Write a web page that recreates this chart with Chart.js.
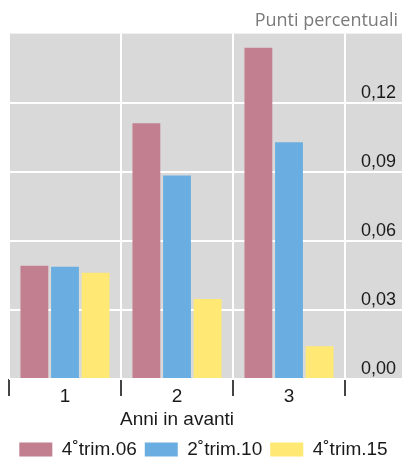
<!DOCTYPE html>
<html>
<head>
<meta charset="utf-8">
<script src="https://cdn.jsdelivr.net/npm/chart.js@4.4.0/dist/chart.umd.min.js"></script>
<style>
  html, body { margin: 0; padding: 0; background: #ffffff; }
  #wrap { width: 402px; height: 459px; }
</style>
</head>
<body>
<div id="wrap"><canvas id="chart"></canvas></div>
<script>
// dati
const categories = ['1', '2', '3'];
const seriesNames = ['4˚trim.06', '2˚trim.10', '4˚trim.15'];
const trim06 = [0.0491, 0.1111, 0.1439];
const trim10 = [0.0487, 0.0884, 0.1028];
const trim15 = [0.0461, 0.0347, 0.0142];
const yTicks = [0, 0.03, 0.06, 0.09, 0.12, 0.15];

const colors = ['#c27f8f', '#6aade1', '#ffe873'];
const textColor = '#1a1a1a';

// sfondo grigio dell'area del grafico (anche dietro le etichette a destra)
const greyBg = {
    id: 'greyBg',
    beforeDraw: function(chart) {
        const a = chart.chartArea;
        const ctx = chart.ctx;
        ctx.save();
        ctx.fillStyle = '#d9d9d9';
        ctx.fillRect(a.left, a.top, chart.width - a.left, a.bottom - a.top);
        ctx.restore();
    }
};

const series = [trim06, trim10, trim15];

new Chart(document.getElementById('chart'), {
    type: 'bar',
    data: {
        labels: categories,
        datasets: series.map((d, i) => ({
            label: seriesNames[i],
            data: d,
            backgroundColor: colors[i],
            borderWidth: 0,
            categoryPercentage: 0.82,
            barPercentage: 0.91
        }))
    },
    options: {
        responsive: true,
        maintainAspectRatio: false,
        animation: false,
        layout: {
            padding: { left: 9, right: 4, top: 0, bottom: -10 }
        },
        plugins: {
            title: {
                display: true,
                text: 'Punti percentuali',
                align: 'end',
                color: '#7a7a7a',
                font: { family: 'Open Sans', size: 18, weight: 'normal' },
                padding: { top: 10, bottom: 2 }
            },
            legend: {
                position: 'bottom',
                labels: {
                    boxWidth: 33,
                    boxHeight: 14,
                    padding: 8,
                    color: textColor,
                    font: { family: 'Liberation Sans', size: 19 }
                }
            },
            tooltip: { enabled: false }
        },
        scales: {
            x: {
                border: { display: false },
                grid: {
                    color: '#ffffff',
                    lineWidth: 2,
                    tickColor: '#444444',
                    tickLength: 17,
                    offset: true
                },
                ticks: {
                    color: textColor,
                    padding: -11,
                    font: { family: 'Liberation Sans', size: 19 }
                },
                title: {
                    display: true,
                    text: 'Anni in avanti',
                    color: textColor,
                    font: { family: 'Liberation Sans', size: 19 },
                    padding: { top: 11.5, bottom: 1 }
                }
            },
            y: {
                position: 'right',
                min: 0,
                max: 0.15,
                border: { display: false },
                afterBuildTicks: function(scale) {
                    scale.ticks = yTicks.map(v => ({ value: v }));
                },
                afterFit: function(scale) {
                    scale.width = 53;
                },
                grid: {
                    color: ctx => (ctx.tick && ctx.tick.value >= 0.15) ? 'rgba(0,0,0,0)' : '#ffffff',
                    tickColor: ctx => (ctx.tick && ctx.tick.value >= 0.15) ? 'rgba(0,0,0,0)' : '#ffffff',
                    lineWidth: 2,
                    tickLength: 57
                },
                ticks: {
                    color: textColor,
                    crossAlign: 'near',
                    padding: -41,
                    labelOffset: -10,
                    font: { family: 'Liberation Sans', size: 18 },
                    callback: function(v) {
                        if (v >= 0.15) return '';
                        return v.toFixed(2).replace('.', ',');
                    }
                }
            }
        }
    },
    plugins: [greyBg]
});
</script>
</body>
</html>
